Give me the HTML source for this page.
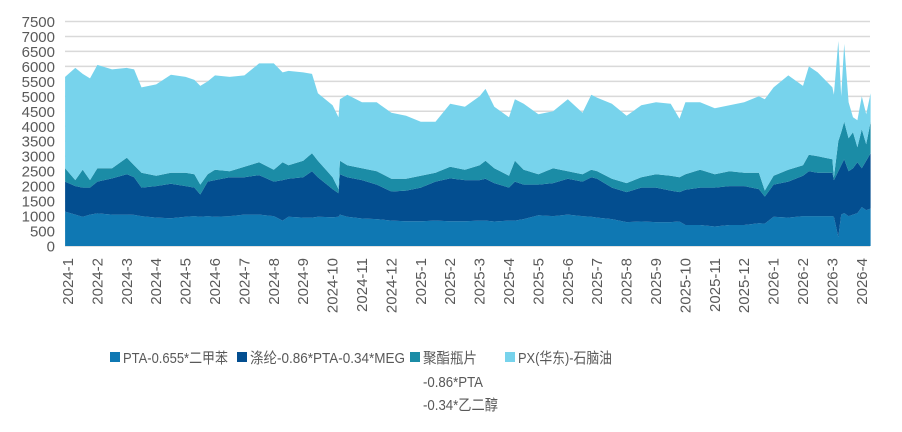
<!DOCTYPE html>
<html><head><meta charset="utf-8">
<style>
html,body{margin:0;padding:0;background:#fff;}
svg{display:block;font-family:"Liberation Sans","Noto Sans CJK SC",sans-serif;}
</style></head>
<body>
<svg id="chart" width="902" height="432" viewBox="0 0 902 432" xmlns="http://www.w3.org/2000/svg">
  <g id="grid"></g>
  <g id="areas"></g>
  <g id="yaxis"></g>
  <g id="xaxis"></g>
  <g id="legend" font-size="15" fill="#595959">
    <g>
      <rect x="110" y="352" width="10" height="10" fill="#0f78b3"/>
      <text x="123" y="363" textLength="105" lengthAdjust="spacingAndGlyphs">PTA-0.655*二甲苯</text>
    </g>
    <g>
      <rect x="237" y="352" width="10" height="10" fill="#034e90"/>
      <text x="250" y="363" textLength="155" lengthAdjust="spacingAndGlyphs">涤纶-0.86*PTA-0.34*MEG</text>
    </g>
    <g>
      <rect x="410" y="352" width="10" height="10" fill="#1b8ca6"/>
      <text x="423" y="363" textLength="54" lengthAdjust="spacingAndGlyphs">聚酯瓶片</text>
      <text x="423" y="387" textLength="60" lengthAdjust="spacingAndGlyphs">-0.86*PTA</text>
      <text x="423" y="410" textLength="75" lengthAdjust="spacingAndGlyphs">-0.34*乙二醇</text>
    </g>
    <g>
      <rect x="505" y="352" width="10" height="10" fill="#77d3ec"/>
      <text x="518" y="363" textLength="94" lengthAdjust="spacingAndGlyphs">PX(华东)-石脑油</text>
    </g>
  </g>
</svg>
<script>
// month offsets from 2024-1
const t = [-0.1,0.25,0.5,0.75,1,1.5,2,2.25,2.5,3,3.5,4,4.3,4.5,4.75,5,5.5,6,6.5,7,7.3,7.5,8,8.3,8.5,9,9.2,9.25,9.5,10,10.5,11,11.5,12,12.5,13,13.5,14,14.2,14.5,15,15.2,15.5,16,16.5,17,17.5,17.8,18,18.5,19,19.5,20,20.5,20.8,21,21.5,22,22.5,23,23.5,23.7,24,24.5,25,25.2,25.5,26,26.05,26.2,26.3,26.4,26.55,26.7,26.85,27,27.15,27.3];
const ptaXylene = [1150,1050,980,1050,1090,1050,1050,1040,1000,950,930,980,1000,980,1000,980,1000,1050,1050,1000,850,980,950,950,980,960,980,1050,980,920,900,850,830,830,850,830,830,850,850,820,850,850,900,1030,1000,1050,1000,980,950,900,800,820,800,800,820,700,700,650,700,700,760,750,980,950,1000,1000,1000,1000,980,300,1050,1100,1000,1050,1100,1300,1200,1250];
const polyesterMargin = [1000,950,970,900,1060,1210,1350,1260,950,1050,1150,1020,950,740,1150,1220,1300,1250,1320,1150,1350,1270,1350,1550,1320,940,780,1350,1320,1280,1150,970,1020,1120,1300,1430,1370,1350,1400,1280,1100,1300,1150,1020,1100,1200,1150,1320,1300,1050,1000,1130,1150,1050,980,1180,1250,1300,1300,1300,1140,900,1070,1200,1350,1500,1450,1450,1220,2200,1650,1800,1500,1550,1700,1300,1650,1850];
const bottleMargin = [450,200,600,250,450,340,550,400,500,350,370,450,450,330,250,350,200,350,430,400,600,450,550,600,550,400,140,450,400,400,450,430,400,400,300,390,350,500,600,500,400,700,500,350,500,250,250,250,250,300,300,350,450,500,500,520,600,450,500,450,550,200,300,400,350,550,550,450,100,1000,1100,1250,1100,1200,500,1300,550,1050];
const pxNaphtha = [3050,3750,3200,3400,3450,3300,3000,3200,2850,3050,3270,3200,3150,3300,3100,3150,3150,3050,3300,3550,3000,3150,2950,2650,2250,2400,2400,2050,2350,2200,2300,2200,2100,1800,1700,2100,2100,2300,2400,2050,1950,2050,2200,2000,1900,2400,2050,2500,2450,2500,2250,2400,2400,2400,1950,2400,2250,2200,2200,2350,2550,3050,2950,3150,2650,2950,2800,2400,2750,3350,1200,2600,1200,500,900,1100,1000,950];
const yTicks = [0,500,1000,1500,2000,2500,3000,3500,4000,4500,5000,5500,6000,6500,7000,7500];
const xLabels = ["2024-1","2024-2","2024-3","2024-4","2024-5","2024-6","2024-7","2024-8","2024-9","2024-10","2024-11","2024-12","2025-1","2025-2","2025-3","2025-4","2025-5","2025-6","2025-7","2025-8","2025-9","2025-10","2025-11","2025-12","2026-1","2026-2","2026-3","2026-4"];

const NS = "http://www.w3.org/2000/svg";
const X0 = 65, X1 = 870, Y0 = 246, Y1 = 21.5;
function xScale(m){ return 68 + m * 29.4; }
function yScale(v){ return Y0 - (v / 7500) * (Y0 - Y1); }
function mk(tag, attrs){ const e = document.createElementNS(NS, tag); for (const k in attrs) e.setAttribute(k, attrs[k]); return e; }

const grid = document.getElementById('grid');
const yaxis = document.getElementById('yaxis');
yTicks.forEach(v => {
  const ln = mk('line', {x1: X0, x2: X1, y1: yScale(v), y2: yScale(v), stroke: '#d9d9d9', 'stroke-width': 1.5});
  
  
  grid.appendChild(ln);
  const tx = mk('text', {x: 55, y: yScale(v) + 5.5, 'text-anchor': 'end', 'font-size': 15, fill: '#595959'});
  
  
  tx.textContent = v;
  yaxis.appendChild(tx);
});

const series = [
  {vals: ptaXylene, color: '#0f78b3', name: 'area-pta-xylene'},
  {vals: polyesterMargin, color: '#034e90', name: 'area-polyester-margin'},
  {vals: bottleMargin, color: '#1b8ca6', name: 'area-bottle-chip-margin'},
  {vals: pxNaphtha, color: '#77d3ec', name: 'area-px-naphtha'}
];
const areas = document.getElementById('areas');
let base = t.map(() => 0);
series.forEach(s => {
  const top = base.map((b, i) => b + s.vals[i]);
  let d = '';
  t.forEach((m, i) => { d += (i ? 'L' : 'M') + xScale(m).toFixed(1) + ',' + yScale(top[i]).toFixed(1); });
  for (let i = t.length - 1; i >= 0; i--) d += 'L' + xScale(t[i]).toFixed(1) + ',' + yScale(base[i]).toFixed(1);
  d += 'Z';
  const p = mk('path', {d: d, fill: s.color});
  
  
  areas.appendChild(p);
  base = top;
});

const xaxis = document.getElementById('xaxis');
xLabels.forEach((lab, i) => {
  const x = xScale(i);
  const tx = mk('text', {x: 0, y: 0, 'text-anchor': 'end', 'font-size': 15, fill: '#595959', transform: 'translate(' + (x + 5) + ',258) rotate(-90)'});
  
  
  tx.textContent = lab;
  xaxis.appendChild(tx);
});
</script>
</body></html>
